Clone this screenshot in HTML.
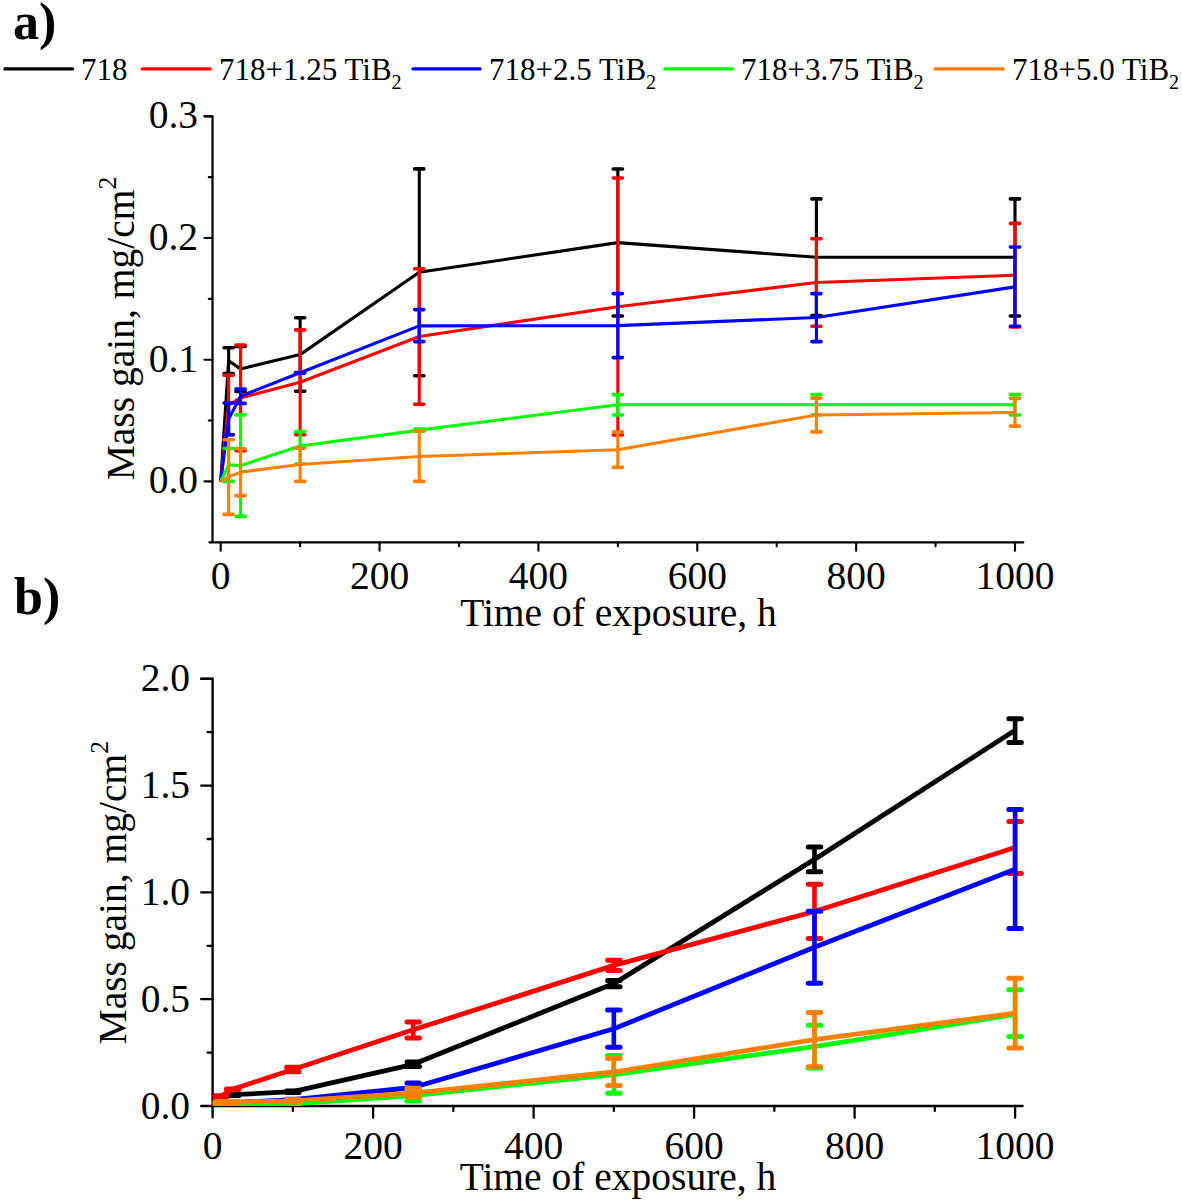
<!DOCTYPE html>
<html><head><meta charset="utf-8"><style>
html,body{margin:0;padding:0;background:#fff;width:1182px;height:1202px;overflow:hidden}
svg{display:block}
text{font-family:"Liberation Serif", serif;fill:#000}
</style></head><body>
<svg width="1182" height="1202" viewBox="0 0 1182 1202">
<defs><clipPath id="cb"><rect x="212.6" y="600" width="820" height="506"/></clipPath></defs>

<text x="13" y="39" font-size="52" font-weight="bold">a)</text>
<text x="14" y="613.5" font-size="52" font-weight="bold">b)</text>
<line x1="4.9" y1="68.9" x2="72.7" y2="68.9" stroke="#000000" stroke-width="3.2" stroke-linecap="round"/>
<text x="81" y="79.5" font-size="31">718</text>
<line x1="142.4" y1="68.9" x2="210.3" y2="68.9" stroke="#FF0000" stroke-width="3.2" stroke-linecap="round"/>
<text x="219" y="79.5" font-size="31">718+1.25 TiB<tspan font-size="20.2" dy="9">2</tspan></text>
<line x1="413.0" y1="68.9" x2="480.1" y2="68.9" stroke="#0000FF" stroke-width="3.2" stroke-linecap="round"/>
<text x="489" y="79.5" font-size="31">718+2.5 TiB<tspan font-size="20.2" dy="9">2</tspan></text>
<line x1="664.8" y1="68.9" x2="732.7" y2="68.9" stroke="#00FF00" stroke-width="3.2" stroke-linecap="round"/>
<text x="741" y="79.5" font-size="31">718+3.75 TiB<tspan font-size="20.2" dy="9">2</tspan></text>
<line x1="935.0" y1="68.9" x2="1003.4" y2="68.9" stroke="#FF8000" stroke-width="3.2" stroke-linecap="round"/>
<text x="1012" y="79.5" font-size="31">718+5.0 TiB<tspan font-size="20.2" dy="9">2</tspan></text>
<path d="M204.5,116.3H212.5V542.3M209.4,542.3H1023.3" stroke="#000" stroke-width="2.2" fill="none" stroke-linecap="round" stroke-linejoin="round"/>
<path d="M204.5,481.4H212.5M204.5,359.7H212.5M204.5,238H212.5M204.5,116.3H212.5M208.8,420.55H212.5M208.8,298.85H212.5M208.8,177.15H212.5M220.7,542.3V550.8M379.56,542.3V550.8M538.42,542.3V550.8M697.28,542.3V550.8M856.14,542.3V550.8M1015,542.3V550.8M300.13,542.3V546.2M458.99,542.3V546.2M617.85,542.3V546.2M776.71,542.3V546.2M935.57,542.3V546.2" stroke="#000" stroke-width="2.1" stroke-linecap="round" fill="none"/>
<text x="198" y="493.3" font-size="39.5" text-anchor="end">0.0</text>
<text x="198" y="371.6" font-size="39.5" text-anchor="end">0.1</text>
<text x="198" y="249.9" font-size="39.5" text-anchor="end">0.2</text>
<text x="198" y="128.2" font-size="39.5" text-anchor="end">0.3</text>
<text x="220.7" y="589.3" font-size="39.5" text-anchor="middle">0</text>
<text x="379.56" y="589.3" font-size="39.5" text-anchor="middle">200</text>
<text x="538.42" y="589.3" font-size="39.5" text-anchor="middle">400</text>
<text x="697.28" y="589.3" font-size="39.5" text-anchor="middle">600</text>
<text x="856.14" y="589.3" font-size="39.5" text-anchor="middle">800</text>
<text x="1015" y="589.3" font-size="39.5" text-anchor="middle">1000</text>
<text x="618.5" y="625.5" font-size="39.5" text-anchor="middle">Time of exposure, h</text>
<text transform="translate(134.1,328.5) rotate(-90)" font-size="39.5" text-anchor="middle">Mass gain, mg/cm<tspan font-size="25.7" dy="-18">2</tspan></text>
<g>
<polyline points="220.7,481.5 228.64,360.7 240.56,368.9 300.13,354.6 419.27,272.3 617.85,242.6 816.42,257.2 1015,257.2" fill="none" stroke="#000000" stroke-width="3.1" stroke-linejoin="round"/>
<path d="M228.64,347.8V373.6M240.56,346.4V391.4M300.13,317.8V391.3M419.27,168.9V375.7M617.85,169V316M816.42,198.9V315.5M1015,198.9V316" stroke="#000000" stroke-width="3.1" fill="none"/>
<path d="M224.04,347.8H233.24M224.04,373.6H233.24M235.96,346.4H245.16M235.96,391.4H245.16M295.53,317.8H304.73M295.53,391.3H304.73M414.67,168.9H423.88M414.67,375.7H423.88M613.25,169H622.45M613.25,316H622.45M811.82,198.9H821.02M811.82,315.5H821.02M1010.4,198.9H1019.6M1010.4,316H1019.6" stroke="#000000" stroke-width="3.6" stroke-linecap="round" fill="none"/>
</g>
<g>
<polyline points="220.7,481.5 228.64,405 240.56,397.9 300.13,382.3 419.27,336.5 617.85,306.7 816.42,282.5 1015,275.2" fill="none" stroke="#FF0000" stroke-width="3.1" stroke-linejoin="round"/>
<path d="M228.64,375.3V434.7M240.56,345V450.8M300.13,329.9V434.8M419.27,268.8V404.2M617.85,178V435M816.42,238.8V326.2M1015,223.4V327" stroke="#FF0000" stroke-width="3.1" fill="none"/>
<path d="M224.04,375.3H233.24M224.04,434.7H233.24M235.96,345H245.16M235.96,450.8H245.16M295.53,329.9H304.73M295.53,434.8H304.73M414.67,268.8H423.88M414.67,404.2H423.88M613.25,178H622.45M613.25,435H622.45M811.82,238.8H821.02M811.82,326.2H821.02M1010.4,223.4H1019.6M1010.4,327H1019.6" stroke="#FF0000" stroke-width="3.6" stroke-linecap="round" fill="none"/>
</g>
<g>
<polyline points="220.7,481.5 228.64,419 240.56,396.2 300.13,372.8 419.27,325.9 617.85,325.6 816.42,317.5 1015,286.9" fill="none" stroke="#0000FF" stroke-width="3.1" stroke-linejoin="round"/>
<path d="M228.64,403V434.8M240.56,389.1V403.4M300.13,372.5V373.1M419.27,309.6V341.6M617.85,293.6V357.6M816.42,293.6V341.6M1015,247V326.2" stroke="#0000FF" stroke-width="3.1" fill="none"/>
<path d="M224.04,403H233.24M224.04,434.8H233.24M235.96,389.1H245.16M235.96,403.4H245.16M295.53,372.5H304.73M295.53,373.1H304.73M414.67,309.6H423.88M414.67,341.6H423.88M613.25,293.6H622.45M613.25,357.6H622.45M811.82,293.6H821.02M811.82,341.6H821.02M1010.4,247H1019.6M1010.4,326.2H1019.6" stroke="#0000FF" stroke-width="3.6" stroke-linecap="round" fill="none"/>
</g>
<g>
<polyline points="220.7,481.5 228.64,464.8 240.56,465.6 300.13,446 419.27,430.1 617.85,404.8 816.42,404.8 1015,404.8" fill="none" stroke="#00FF00" stroke-width="3.1" stroke-linejoin="round"/>
<path d="M228.64,448.5V481.4M240.56,414.9V516.4M300.13,431.5V464M419.27,429V431.2M617.85,394.6V415M816.42,394.6V415M1015,394.6V415" stroke="#00FF00" stroke-width="3.1" fill="none"/>
<path d="M224.04,448.5H233.24M224.04,481.4H233.24M235.96,414.9H245.16M235.96,516.4H245.16M295.53,431.5H304.73M295.53,464H304.73M414.67,429H423.88M414.67,431.2H423.88M613.25,394.6H622.45M613.25,415H622.45M811.82,394.6H821.02M811.82,415H821.02M1010.4,394.6H1019.6M1010.4,415H1019.6" stroke="#00FF00" stroke-width="3.6" stroke-linecap="round" fill="none"/>
</g>
<g>
<polyline points="220.7,481.5 228.64,477 240.56,472.1 300.13,464.5 419.27,456.5 617.85,449.8 816.42,415 1015,412.5" fill="none" stroke="#FF8000" stroke-width="3.1" stroke-linejoin="round"/>
<path d="M228.64,439.8V514.4M240.56,448.7V495.6M300.13,448.1V481.4M419.27,431V481.4M617.85,431.9V467.4M816.42,398.1V431.9M1015,398.4V426.1" stroke="#FF8000" stroke-width="3.1" fill="none"/>
<path d="M224.04,439.8H233.24M224.04,514.4H233.24M235.96,448.7H245.16M235.96,495.6H245.16M295.53,448.1H304.73M295.53,481.4H304.73M414.67,431H423.88M414.67,481.4H423.88M613.25,431.9H622.45M613.25,467.4H622.45M811.82,398.1H821.02M811.82,431.9H821.02M1010.4,398.4H1019.6M1010.4,426.1H1019.6" stroke="#FF8000" stroke-width="3.6" stroke-linecap="round" fill="none"/>
</g>
<path d="M201.2,678.8H212.6V1117.2M201.2,1106.0H1022.5" stroke="#000" stroke-width="2.4" stroke-linecap="round" stroke-linejoin="round" fill="none"/>
<path d="M201.2,999.2H212.6M201.2,892.4H212.6M201.2,785.6H212.6M201.2,678.8H212.6M207.6,1052.6H212.6M207.6,945.8H212.6M207.6,839H212.6M207.6,732.2H212.6M373.1,1106.0V1117.8M533.6,1106.0V1117.8M694.1,1106.0V1117.8M854.6,1106.0V1117.8M1015.1,1106.0V1117.8M292.85,1106.0V1110.9M453.35,1106.0V1110.9M613.85,1106.0V1110.9M774.35,1106.0V1110.9M934.85,1106.0V1110.9" stroke="#000" stroke-width="2.3" stroke-linecap="round" fill="none"/>
<text x="190" y="1118.5" font-size="39.5" text-anchor="end">0.0</text>
<text x="190" y="1011.7" font-size="39.5" text-anchor="end">0.5</text>
<text x="190" y="904.9" font-size="39.5" text-anchor="end">1.0</text>
<text x="190" y="798.1" font-size="39.5" text-anchor="end">1.5</text>
<text x="190" y="691.3" font-size="39.5" text-anchor="end">2.0</text>
<text x="212.6" y="1158.5" font-size="39.5" text-anchor="middle">0</text>
<text x="373.1" y="1158.5" font-size="39.5" text-anchor="middle">200</text>
<text x="533.6" y="1158.5" font-size="39.5" text-anchor="middle">400</text>
<text x="694.1" y="1158.5" font-size="39.5" text-anchor="middle">600</text>
<text x="854.6" y="1158.5" font-size="39.5" text-anchor="middle">800</text>
<text x="1015.1" y="1158.5" font-size="39.5" text-anchor="middle">1000</text>
<text x="618" y="1189.5" font-size="39.5" text-anchor="middle">Time of exposure, h</text>
<text transform="translate(126.4,892.7) rotate(-90)" font-size="39.5" text-anchor="middle">Mass gain, mg/cm<tspan font-size="25.7" dy="-18">2</tspan></text>
<g clip-path="url(#cb)">
<polyline points="232.66,1094.7 292.85,1091.7 413.23,1064.3 613.85,983.6 814.48,859.4 1015.1,730.2" fill="none" stroke="#000000" stroke-width="4.8" stroke-linejoin="round"/>
<path d="M232.66,1093.9V1095.5M292.85,1090.9V1092.5M413.23,1062V1066.6M613.85,980.5V986.7M814.48,847V871.7M1015.1,718.7V742.4" stroke="#000000" stroke-width="4.6" fill="none"/>
<path d="M226.41,1093.9H238.91M226.41,1095.5H238.91M286.6,1090.9H299.1M286.6,1092.5H299.1M406.98,1062H419.48M406.98,1066.6H419.48M607.6,980.5H620.1M607.6,986.7H620.1M808.23,847H820.73M808.23,871.7H820.73M1008.85,718.7H1021.35M1008.85,742.4H1021.35" stroke="#000000" stroke-width="5" stroke-linecap="round" fill="none"/>
</g>
<g clip-path="url(#cb)">
<polyline points="220.62,1096.4 232.66,1089.2 292.85,1069.5 413.23,1029.8 613.85,965.4 814.48,911.5 1015.1,847.5" fill="none" stroke="#FF0000" stroke-width="4.8" stroke-linejoin="round"/>
<path d="M220.62,1095.8V1097M232.66,1088.9V1089.5M292.85,1067.2V1071.8M413.23,1021.9V1038M613.85,960.3V970.6M814.48,884.2V938.5M1015.1,821.5V873.6" stroke="#FF0000" stroke-width="4.6" fill="none"/>
<path d="M214.38,1095.8H226.88M214.38,1097H226.88M226.41,1088.9H238.91M226.41,1089.5H238.91M286.6,1067.2H299.1M286.6,1071.8H299.1M406.98,1021.9H419.48M406.98,1038H419.48M607.6,960.3H620.1M607.6,970.6H620.1M808.23,884.2H820.73M808.23,938.5H820.73M1008.85,821.5H1021.35M1008.85,873.6H1021.35" stroke="#FF0000" stroke-width="5" stroke-linecap="round" fill="none"/>
</g>
<g clip-path="url(#cb)">
<polyline points="220.62,1103 232.66,1102.6 292.85,1099.6 413.23,1087.5 613.85,1028.8 814.48,947.3 1015.1,869.3" fill="none" stroke="#0000FF" stroke-width="4.8" stroke-linejoin="round"/>
<path d="M220.62,1102.7V1103.3M232.66,1102.3V1102.9M292.85,1099.2V1100M413.23,1083.1V1091.8M613.85,1010V1047.3M814.48,911.2V983.3M1015.1,809.6V928.5" stroke="#0000FF" stroke-width="4.6" fill="none"/>
<path d="M214.38,1102.7H226.88M214.38,1103.3H226.88M226.41,1102.3H238.91M226.41,1102.9H238.91M286.6,1099.2H299.1M286.6,1100H299.1M406.98,1083.1H419.48M406.98,1091.8H419.48M607.6,1010H620.1M607.6,1047.3H620.1M808.23,911.2H820.73M808.23,983.3H820.73M1008.85,809.6H1021.35M1008.85,928.5H1021.35" stroke="#0000FF" stroke-width="5" stroke-linecap="round" fill="none"/>
</g>
<g clip-path="url(#cb)">
<polyline points="220.62,1104.3 232.66,1104.3 292.85,1103.8 413.23,1095.5 613.85,1074.5 814.48,1046.6 1015.1,1014.5" fill="none" stroke="#00FF00" stroke-width="4.8" stroke-linejoin="round"/>
<path d="M220.62,1104V1104.6M232.66,1104V1104.6M292.85,1103.5V1104.1M413.23,1090V1101M613.85,1055.4V1093.2M814.48,1025.3V1068M1015.1,989.8V1036.6" stroke="#00FF00" stroke-width="4.6" fill="none"/>
<path d="M214.38,1104H226.88M214.38,1104.6H226.88M226.41,1104H238.91M226.41,1104.6H238.91M286.6,1103.5H299.1M286.6,1104.1H299.1M406.98,1090H419.48M406.98,1101H419.48M607.6,1055.4H620.1M607.6,1093.2H620.1M808.23,1025.3H820.73M808.23,1068H820.73M1008.85,989.8H1021.35M1008.85,1036.6H1021.35" stroke="#00FF00" stroke-width="5" stroke-linecap="round" fill="none"/>
</g>
<g clip-path="url(#cb)">
<polyline points="220.62,1102.3 232.66,1102.2 292.85,1100.8 413.23,1093.2 613.85,1072 814.48,1039.6 1015.1,1013.2" fill="none" stroke="#FF8000" stroke-width="4.8" stroke-linejoin="round"/>
<path d="M220.62,1101.9V1102.7M232.66,1101.8V1102.6M292.85,1099.5V1102.1M413.23,1088.2V1097.5M613.85,1058.4V1085.6M814.48,1012.6V1066.7M1015.1,978.3V1048.1" stroke="#FF8000" stroke-width="4.6" fill="none"/>
<path d="M214.38,1101.9H226.88M214.38,1102.7H226.88M226.41,1101.8H238.91M226.41,1102.6H238.91M286.6,1099.5H299.1M286.6,1102.1H299.1M406.98,1088.2H419.48M406.98,1097.5H419.48M607.6,1058.4H620.1M607.6,1085.6H620.1M808.23,1012.6H820.73M808.23,1066.7H820.73M1008.85,978.3H1021.35M1008.85,1048.1H1021.35" stroke="#FF8000" stroke-width="5" stroke-linecap="round" fill="none"/>
</g>
</svg>
</body></html>
